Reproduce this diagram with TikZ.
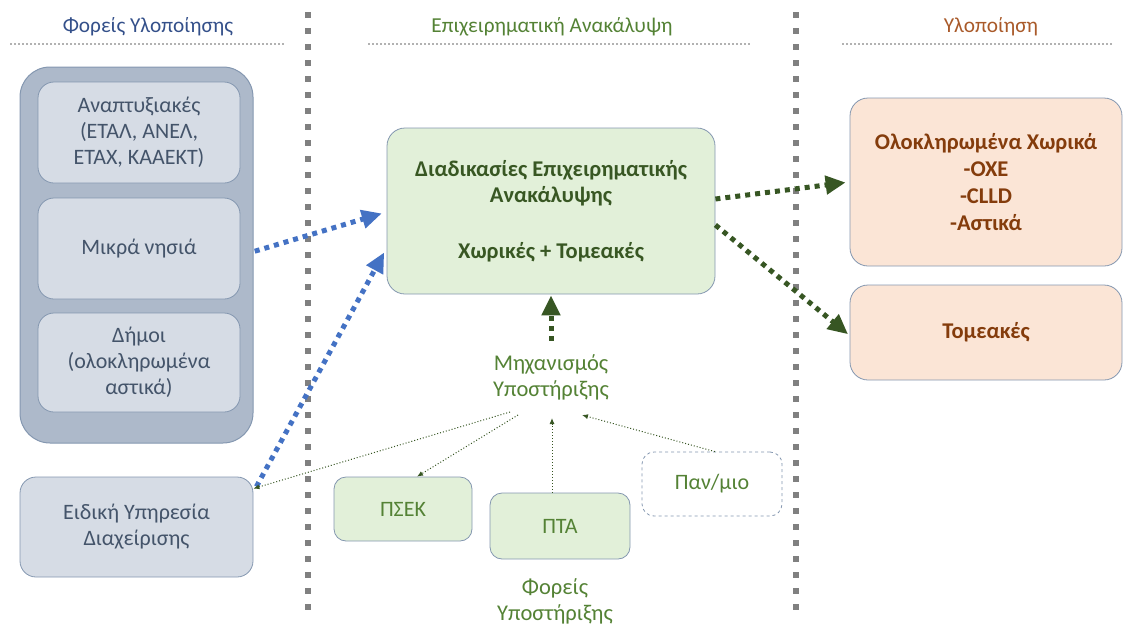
\documentclass[tikz,border=0pt]{standalone}
\usepackage{fontspec}
\setmainfont{Carlito}
\usetikzlibrary{arrows.meta,positioning}
\definecolor{groupblue}{HTML}{ADB9CA}
\definecolor{actorblue}{HTML}{D6DCE5}
\definecolor{frameblue}{HTML}{8497B0}
\definecolor{textblue}{HTML}{44546A}
\definecolor{headblue}{HTML}{34508A}
\definecolor{greenfill}{HTML}{E2F0D9}
\definecolor{greentext}{HTML}{548235}
\definecolor{darkgreen}{HTML}{385723}
\definecolor{orangefill}{HTML}{FBE5D6}
\definecolor{browntext}{HTML}{843C0C}
\definecolor{headbrown}{HTML}{A95A2A}
\definecolor{arrowblue}{HTML}{4472C4}
\definecolor{arrowgreen}{HTML}{375623}
\tikzset{
    body-font/.style = {font=\fontsize{22}{26}\selectfont},
    bold-font/.style = {font=\fontsize{22.5}{26.7}\selectfont\bfseries},
    group-box/.style = {draw=frameblue, fill=groupblue, line width=1pt, rounded corners=30pt},
    actor-box/.style = {draw=frameblue, fill=actorblue, line width=0.8pt, rounded corners=16pt, text=textblue, align=center, body-font, minimum width=202pt},
    green-box/.style = {draw=frameblue, fill=greenfill, line width=0.8pt, rounded corners=18pt, text=darkgreen, align=center, body-font},
    orange-box/.style = {draw=frameblue, fill=orangefill, line width=0.8pt, rounded corners=18pt, text=browntext, align=center, bold-font, minimum width=272pt},
    dashed-box/.style = {draw=frameblue, dashed, fill=white, line width=0.8pt, rounded corners=12pt, text=greentext, align=center, body-font},
    plain-text/.style = {text=greentext, align=center, body-font, font=\fontsize{22.5}{26}\selectfont},
    head-text/.style = {font=\fontsize{21.3}{26}\selectfont},
    head-line/.style = {draw=gray!60, line width=1.5pt, dash pattern=on 1.5pt off 2.5pt},
    sep-line/.style = {draw=gray, line width=6pt, dash pattern=on 6pt off 10pt},
    blue-arrow/.style = {draw=arrowblue, line width=5pt, dash pattern=on 5pt off 5pt, -{Triangle[length=20pt,width=18pt]}, arrowblue},
    green-arrow/.style = {draw=arrowgreen, line width=5pt, dash pattern=on 5pt off 5pt, -{Triangle[length=20pt,width=18pt]}, arrowgreen},
    thin-arrow/.style = {draw=arrowgreen, line width=1pt, dotted, -{Latex[length=6pt,width=5pt]}},
}

\begin{document}
\begin{tikzpicture}[x=1pt, y=-1pt]
\useasboundingbox (0,0) rectangle (1124,627);

% headers and separators
\node[head-text, text=headblue] (h-actors) at (148,27) {Φορείς Υλοποίησης};
\node[head-text, text=greentext] (h-discovery) at (552,27) {Επιχειρηματική Ανακάλυψη};
\node[head-text, text=headbrown] (h-impl) at (991,27) {Υλοποίηση};
\draw[head-line] (10,44) -- (285,44);
\draw[head-line] (368,44) -- (752,44);
\draw[head-line] (842,44) -- (1114,44);
\draw[sep-line] (308,12) -- (308,612);
\draw[sep-line] (796,12) -- (796,612);

% implementing bodies
\node[group-box, minimum width=233pt, minimum height=376pt] (group) at (136.5,255) {};
\node[actor-box, minimum height=101pt] (devel) at (139,132.5) {Αναπτυξιακές\\(ΕΤΑΛ, ΑΝΕΛ,\\ΕΤΑΧ, ΚΑΑΕΚΤ)};
\node[actor-box, minimum height=101pt] (islands) at (139,248.5) {Μικρά νησιά};
\node[actor-box, minimum height=99pt] (munic) at (139,362.5) {Δήμοι\\(ολοκληρωμένα\\αστικά)};
\node[actor-box, minimum width=233pt, minimum height=100pt] (special) at (136.5,527) {Ειδική Υπηρεσία\\Διαχείρισης};

% discovery
\node[green-box, bold-font, minimum width=328pt, minimum height=166pt] (discovery) at (551,211) {Διαδικασίες Επιχειρηματικής\\Ανακάλυψης\\[29pt]Χωρικές + Τομεακές};
\node[plain-text] (mech) at (551,377) {Μηχανισμός\\Υποστήριξης};
\node[green-box, text=greentext, minimum width=138pt, minimum height=64pt, rounded corners=12pt] (psek) at (403,509) {ΠΣΕΚ};
\node[green-box, text=greentext, minimum width=140pt, minimum height=66pt, rounded corners=12pt] (pta) at (560,526) {ΠΤΑ};
\node[dashed-box, minimum width=140pt, minimum height=64pt] (univ) at (712,484) {Παν/μιο};
\node[plain-text] (support) at (555,601) {Φορείς\\Υποστήριξης};

% implementation
\node[orange-box, minimum height=168pt] (spatial) at (986,182) {Ολοκληρωμένα Χωρικά\\-ΟΧΕ\\-CLLD\\-Αστικά};
\node[orange-box, minimum height=95pt] (sectoral) at (986,332.5) {Τομεακές};

\coordinate (mech-a) at (510,412);
\coordinate (mech-b) at (518,415);
\coordinate (mech-c) at (552,418);
\coordinate (mech-d) at (582,415);

\draw[blue-arrow, shorten <=15pt, shorten >=5pt] ([yshift=-7pt]islands.east) -- ([yshift=-1pt]discovery.west);
\draw[blue-arrow, shorten >=5pt] ([xshift=3pt,yshift=-10pt]special.north east) -- ([yshift=-37pt]discovery.west);
\draw[green-arrow, shorten >=4pt] ([yshift=12pt]discovery.east) -- (spatial.west);
\draw[green-arrow, shorten >=2pt] ([yshift=-14pt]discovery.east) -- ([yshift=-3pt]sectoral.west);
\draw[green-arrow, shorten <=10pt, shorten >=1pt] (mech.north) -- (discovery.south);

\draw[thin-arrow] (mech-a) -- ([yshift=-12pt]special.north east);
\draw[thin-arrow] (mech-b) -- ([xshift=14pt]psek.north);
\draw[thin-arrow] ([xshift=-8pt]pta.north) -- (mech-c);
\draw[thin-arrow] ([xshift=3pt]univ.north) -- (mech-d);
\end{tikzpicture}
\end{document}
